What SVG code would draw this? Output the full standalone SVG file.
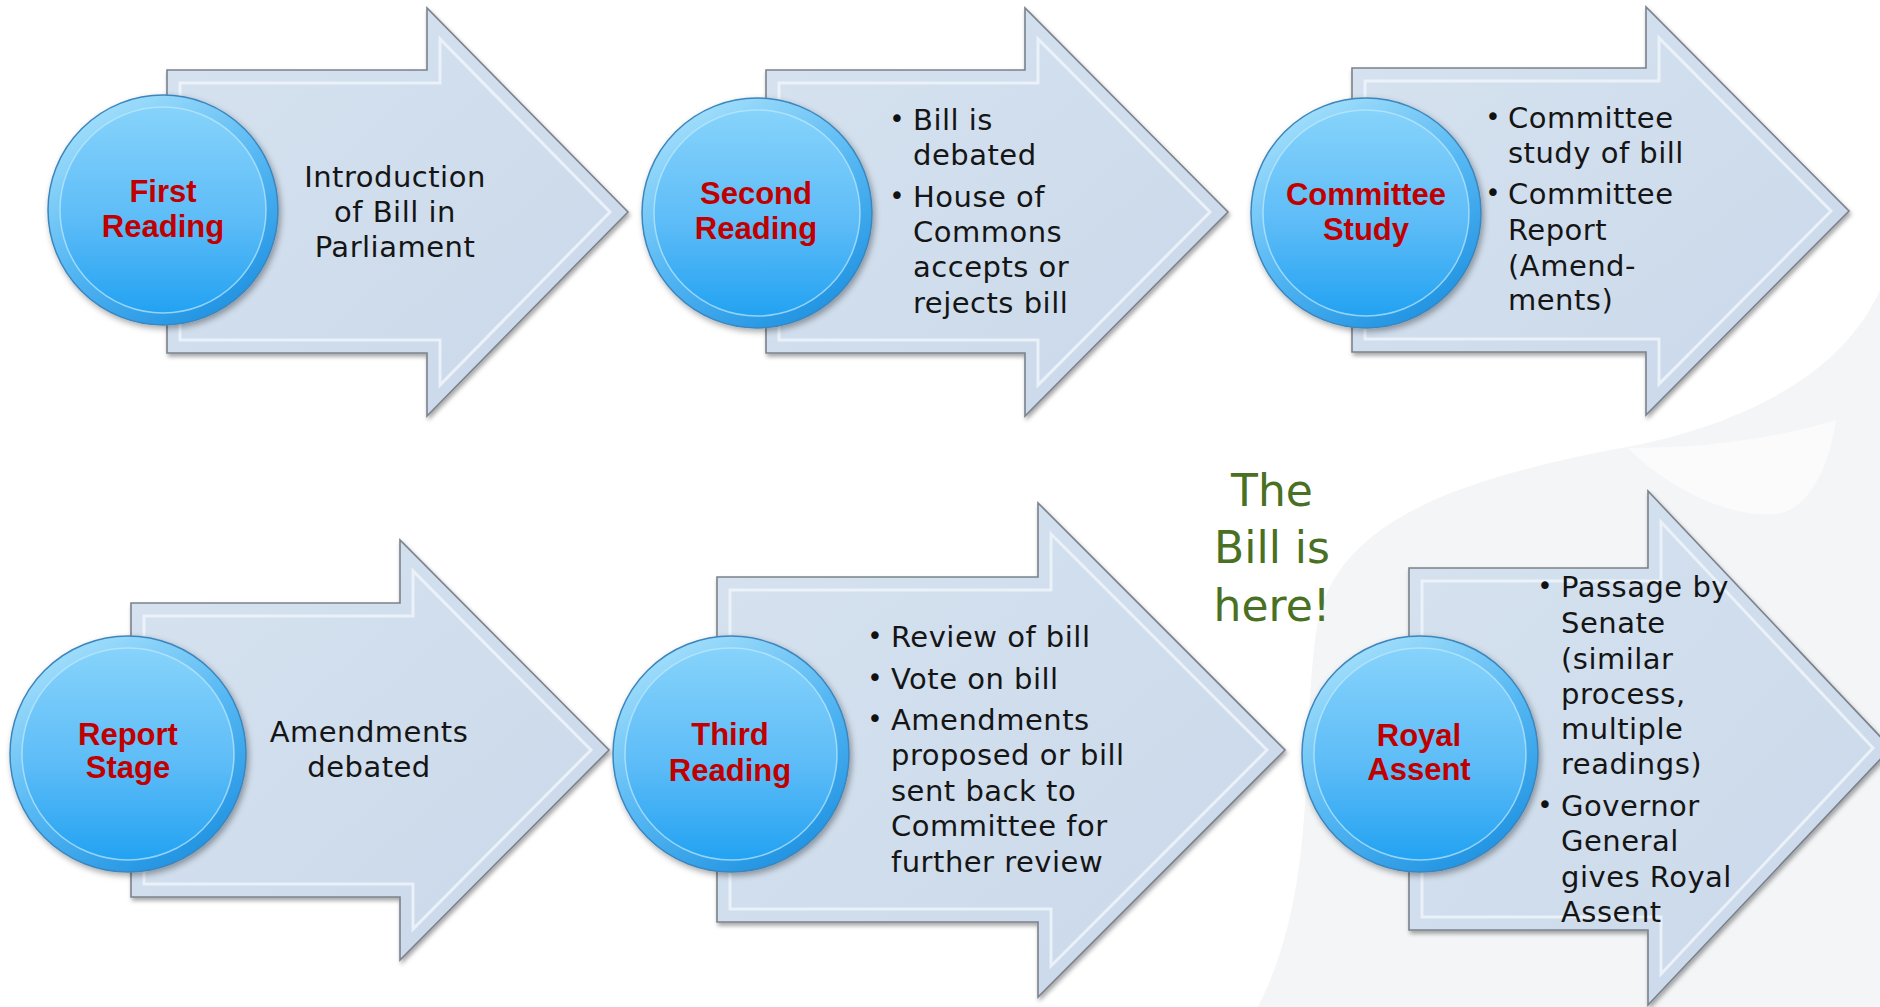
<svg xmlns="http://www.w3.org/2000/svg" width="1880" height="1007" viewBox="0 0 1880 1007">
<defs>
<linearGradient id="arrowGrad" x1="0" y1="0" x2="1" y2="1">
<stop offset="0" stop-color="#d6e2ef"/>
<stop offset="1" stop-color="#c9d8ea"/>
</linearGradient>
<linearGradient id="circOuter" x1="0.2" y1="0" x2="0.8" y2="1">
<stop offset="0" stop-color="#a9e2fc"/>
<stop offset="0.5" stop-color="#56b8f3"/>
<stop offset="1" stop-color="#1b8fe0"/>
</linearGradient>
<linearGradient id="circInner" x1="0" y1="0" x2="0" y2="1">
<stop offset="0" stop-color="#86d3fb"/>
<stop offset="0.55" stop-color="#5dbcf7"/>
<stop offset="1" stop-color="#22a2f2"/>
</linearGradient>
<filter id="shadow" x="-10%" y="-10%" width="125%" height="125%">
<feDropShadow dx="1.5" dy="3" stdDeviation="2" flood-color="#000" flood-opacity="0.35"/>
</filter>
<filter id="cshadow" x="-15%" y="-15%" width="135%" height="135%">
<feDropShadow dx="2" dy="3" stdDeviation="3" flood-color="#000" flood-opacity="0.35"/>
</filter>
</defs>
<style>
.arrow{fill:url(#arrowGrad);stroke:#7b828b;stroke-width:1.6;filter:url(#shadow)}
.bevel{fill:none;stroke:#eef4fa;stroke-width:3;stroke-opacity:0.85;stroke-linejoin:miter}
.circ{fill:url(#circOuter);stroke:#3c86bd;stroke-width:1.5;filter:url(#cshadow)}
.cin{fill:url(#circInner);stroke:#bfe9fd;stroke-width:1.5;stroke-opacity:0.7}
.lbl{font-family:"Liberation Sans",Arial,sans-serif;font-weight:bold;font-size:31px;fill:#c00000;text-anchor:middle}
.desc{font-family:"DejaVu Sans","Liberation Sans",sans-serif;font-size:29px;fill:#151515;letter-spacing:0.5px}
.ctr{text-anchor:middle}
.bul{font-family:"DejaVu Sans",sans-serif;font-size:26px;fill:#111;text-anchor:middle}
.green{font-family:"DejaVu Sans","Liberation Sans",sans-serif;font-size:44px;fill:#4a7023;text-anchor:middle}
</style>
<rect x="0" y="0" width="1880" height="1007" fill="#ffffff"/>
<g id="background">
<path d="M1880 290 C1840 380 1730 430 1610 450 C1460 480 1340 520 1318 620 C1298 740 1322 880 1258 1007 L1880 1007 Z" fill="#f4f5f7"/>
<path d="M1628 448 C1680 500 1750 522 1785 512 C1815 500 1830 460 1836 420 C1770 440 1700 448 1628 448 Z" fill="#fbfbfc"/>
</g>
<g id="connectors"></g>

<g id="stage-first-reading">
<polygon class="arrow" points="167,70 427,70 427,8 628,212 427,416 427,353 167,353"/>
<polygon class="bevel" points="180,83 440,83 440,39 610,212 440,385 440,340 180,340"/>
<circle class="circ" cx="163" cy="210" r="115"/>
<circle class="cin" cx="163" cy="210" r="103"/>
<text class="lbl" x="163" y="202">First</text>
<text class="lbl" x="163" y="237">Reading</text>
<text class="desc ctr" x="395" y="187">Introduction</text>
<text class="desc ctr" x="395" y="222">of Bill in</text>
<text class="desc ctr" x="395" y="257">Parliament</text>
</g>

<g id="stage-second-reading">
<polygon class="arrow" points="766,70 1025,70 1025,8 1228,212 1025,416 1025,353 766,353"/>
<polygon class="bevel" points="779,83 1038,83 1038,39 1210,212 1038,385 1038,340 779,340"/>
<circle class="circ" cx="757" cy="213" r="115"/>
<circle class="cin" cx="757" cy="213" r="103"/>
<text class="lbl" x="756" y="204">Second</text>
<text class="lbl" x="756" y="239">Reading</text>
<text class="bul" x="897" y="128">•</text>
<text class="desc" x="913" y="130">Bill is</text>
<text class="desc" x="913" y="165">debated</text>
<text class="bul" x="897" y="205">•</text>
<text class="desc" x="913" y="207">House of</text>
<text class="desc" x="913" y="242">Commons</text>
<text class="desc" x="913" y="277">accepts or</text>
<text class="desc" x="913" y="313">rejects bill</text>
</g>

<g id="stage-committee-study">
<polygon class="arrow" points="1352,68 1646,68 1646,7 1849,211 1646,415 1646,352 1352,352"/>
<polygon class="bevel" points="1365,81 1659,81 1659,38 1831,211 1659,384 1659,339 1365,339"/>
<circle class="circ" cx="1366" cy="213" r="115"/>
<circle class="cin" cx="1366" cy="213" r="103"/>
<text class="lbl" x="1366" y="205">Committee</text>
<text class="lbl" x="1366" y="240">Study</text>
<text class="bul" x="1493" y="126">•</text>
<text class="desc" x="1508" y="128">Committee</text>
<text class="desc" x="1508" y="163">study of bill</text>
<text class="bul" x="1493" y="202">•</text>
<text class="desc" x="1508" y="204">Committee</text>
<text class="desc" x="1508" y="240">Report</text>
<text class="desc" x="1508" y="276">(Amend-</text>
<text class="desc" x="1508" y="310">ments)</text>
</g>

<g id="stage-report-stage">
<polygon class="arrow" points="131,603 400,603 400,540 609,750 400,960 400,897 131,897"/>
<polygon class="bevel" points="144,616 413,616 413,571 591,750 413,929 413,884 144,884"/>
<circle class="circ" cx="128" cy="754" r="118"/>
<circle class="cin" cx="128" cy="754" r="106"/>
<text class="lbl" x="128" y="745">Report</text>
<text class="lbl" x="128" y="778">Stage</text>
<text class="desc ctr" x="369" y="742">Amendments</text>
<text class="desc ctr" x="369" y="777">debated</text>
</g>

<g id="stage-third-reading">
<polygon class="arrow" points="717,577 1038,577 1038,503 1285,750 1038,997 1038,922 717,922"/>
<polygon class="bevel" points="730,590 1051,590 1051,534 1267,750 1051,966 1051,909 730,909"/>
<circle class="circ" cx="731" cy="754" r="118"/>
<circle class="cin" cx="731" cy="754" r="106"/>
<text class="lbl" x="730" y="745">Third</text>
<text class="lbl" x="730" y="781">Reading</text>
<text class="bul" x="875" y="645">•</text>
<text class="desc" x="891" y="647">Review of bill</text>
<text class="bul" x="875" y="687">•</text>
<text class="desc" x="891" y="689">Vote on bill</text>
<text class="bul" x="875" y="728">•</text>
<text class="desc" x="891" y="730">Amendments</text>
<text class="desc" x="891" y="765">proposed or bill</text>
<text class="desc" x="891" y="801">sent back to</text>
<text class="desc" x="891" y="836">Committee for</text>
<text class="desc" x="891" y="872">further review</text>
</g>

<g id="note-bill-is-here">
<text class="green" x="1272" y="506">The</text>
<text class="green" x="1272" y="563">Bill is</text>
<text class="green" x="1272" y="621">here!</text>
</g>

<g id="stage-royal-assent">
<polygon class="arrow" points="1409,568 1648,568 1648,491 1891,748 1648,1005 1648,930 1409,930"/>
<polygon class="bevel" points="1422,581 1661,581 1661,522 1873,748 1661,974 1661,917 1422,917"/>
<circle class="circ" cx="1420" cy="754" r="118"/>
<circle class="cin" cx="1420" cy="754" r="106"/>
<text class="lbl" x="1419" y="746">Royal</text>
<text class="lbl" x="1419" y="780">Assent</text>
<text class="bul" x="1545" y="595">•</text>
<text class="desc" x="1561" y="597">Passage by</text>
<text class="desc" x="1561" y="633">Senate</text>
<text class="desc" x="1561" y="669">(similar</text>
<text class="desc" x="1561" y="704">process,</text>
<text class="desc" x="1561" y="739">multiple</text>
<text class="desc" x="1561" y="774">readings)</text>
<text class="bul" x="1545" y="814">•</text>
<text class="desc" x="1561" y="816">Governor</text>
<text class="desc" x="1561" y="851">General</text>
<text class="desc" x="1561" y="887">gives Royal</text>
<text class="desc" x="1561" y="922">Assent</text>
</g>
</svg>
